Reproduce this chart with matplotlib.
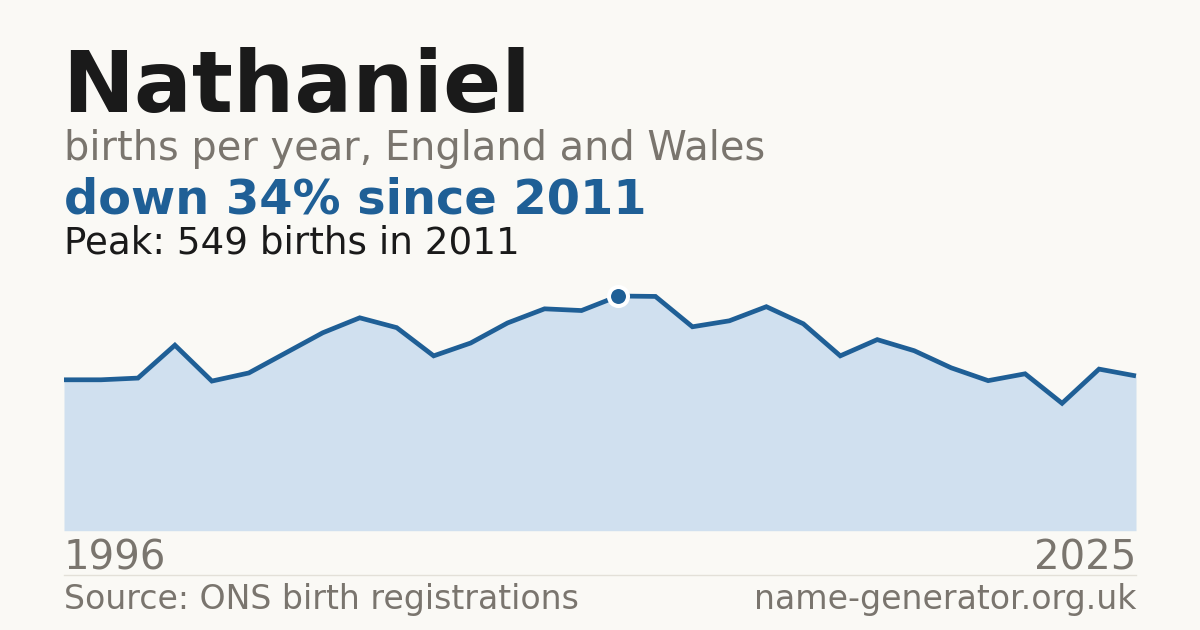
import numpy as np
import matplotlib
matplotlib.use("Agg")
import matplotlib.pyplot as plt

# data
years = list(range(1996, 2026))
births = [353, 353, 357, 434, 350, 369, 416, 463, 498, 475,
          409, 439, 486, 519, 515, 549, 548, 477, 491, 524,
          484, 409, 447, 421, 381, 351, 367, 298, 378, 362]
peak_year = 2011
peak_value = 549

name = "Nathaniel"
subtitle = "births per year, England and Wales"
headline = "down 34% since 2011"
peak_text = "Peak: 549 births in 2011"
source_text = "Source: ONS birth registrations"
site_text = "name-generator.org.uk"

bg = "#faf9f5"
blue = "#1f5f96"
fill = "#d0e0ef"
grey = "#7a756e"
dark = "#1a1a1a"

W, H = 1200, 630
fig = plt.figure(figsize=(W / 100, H / 100), dpi=100, facecolor=bg)


def fy(y):
    return 1 - y / H


def fx(x):
    return x / W


ax = fig.add_axes([fx(64), fy(530.7), fx(1136) - fx(64), fy(274.2) - fy(530.7)])
ax.set_facecolor(bg)
ax.patch.set_alpha(0)
ax.fill_between(years, births, 0, color=fill, lw=0)
ax.plot(years, births, color=blue, lw=3.4, solid_joinstyle="miter",
        solid_capstyle="butt", clip_on=False)
ax.plot([peak_year], [peak_value], "o", ms=13.7, mfc=blue, mec="white",
        mew=2.9, clip_on=False, zorder=5)
ax.set_xlim(years[0], years[-1])
ax.set_ylim(0, 600)
ax.axis("off")

fig.text(fx(62), fy(112), name, fontsize=61.8, fontweight="bold", color=dark, va="baseline")
fig.text(fx(64), fy(160), subtitle, fontsize=28.7, color=grey, va="baseline")
fig.text(fx(64), fy(214), headline, fontsize=34.5, fontweight="bold", color=blue, va="baseline")
fig.text(fx(64), fy(253), peak_text, fontsize=26.8, color=dark, va="baseline")

fig.text(fx(64), fy(570), str(years[0]), fontsize=28.9, color=grey, va="baseline")
fig.text(fx(1136), fy(570), str(years[-1]), fontsize=28.9, color=grey, va="baseline", ha="right")
fig.add_artist(plt.Line2D([fx(64), fx(1136)], [fy(574.5), fy(574.5)], color="#e3e0d8", lw=1))
fig.text(fx(64), fy(609), source_text, fontsize=23.9, color=grey, va="baseline")
fig.text(fx(1136), fy(609), site_text, fontsize=23.9, color=grey, va="baseline", ha="right")

fig.savefig("out.png", dpi=100, facecolor=bg)
